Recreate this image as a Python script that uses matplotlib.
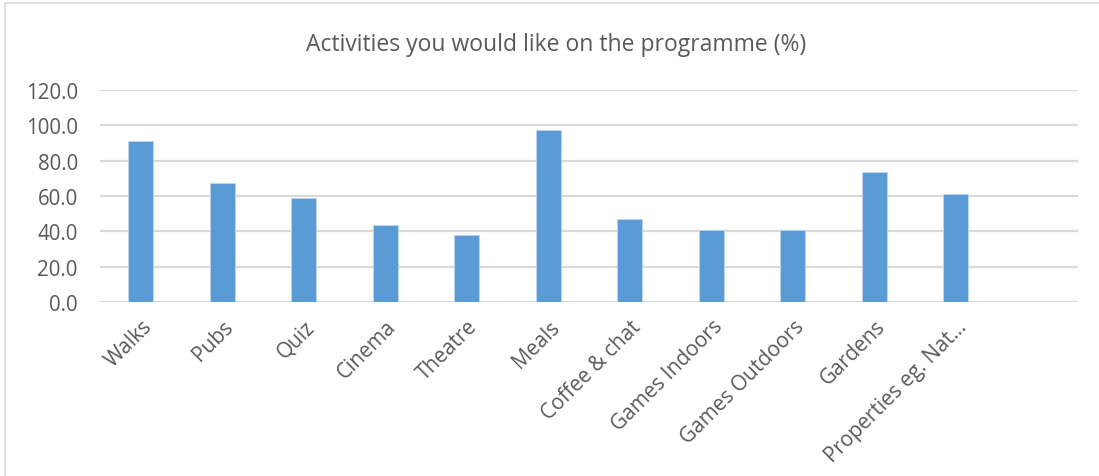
import matplotlib
matplotlib.use("Agg")
import matplotlib.pyplot as plt
from matplotlib.patches import Rectangle
from matplotlib.transforms import ScaledTranslation
import numpy as np

categories = ["Walks", "Pubs", "Quiz", "Cinema", "Theatre", "Meals", "Coffee & chat",
              "Games Indoors", "Games Outdoors", "Gardens", "Properties eg. Nat\u2026"]
values = [91.0, 67.3, 58.9, 43.8, 38.0, 97.1, 46.8, 41.0, 41.0, 73.4, 61.3]
yticks = [0, 20, 40, 60, 80, 100, 120]
n_slots = 12  # Excel left an empty category slot at the end

plt.rcParams["font.family"] = ["Open Sans", "DejaVu Sans"]
W, H = 1099, 477
fig = plt.figure(figsize=(W / 100, H / 100), dpi=100)
ax = fig.add_axes([100 / W, 1 - 303.3 / H, 978 / W, 212.6 / H])

x = np.arange(len(categories))
ax.bar(x, values, width=0.31, color="#5B9BD5", edgecolor="#BDD7EE", linewidth=0.6, zorder=3)
ax.set_xlim(-0.5, n_slots - 0.5)
ax.set_ylim(0, 120)
ax.set_yticks(yticks)
ax.set_yticklabels([f"{v:.1f}" for v in yticks])
ax.grid(axis="y", color="#D9D9D9", linewidth=1.6, zorder=0)
for s in ax.spines.values():
    s.set_visible(False)
ax.tick_params(axis="both", length=0, colors="#595959", labelsize=14.8)
ax.tick_params(axis="y", pad=16)
ax.set_xticks(x)
ax.set_xticklabels(categories, rotation=45, ha="right", va="center",
                   rotation_mode="anchor", fontsize=15)
ax.tick_params(axis="x", pad=15)
shift = ScaledTranslation(8 / 100, 0, fig.dpi_scale_trans)
for lab in ax.get_xticklabels():
    lab.set_transform(lab.get_transform() + shift)

fig.text(556 / W, 1 - 45 / H, "Activities you would like on the programme (%)",
         ha="center", va="center", fontsize=16.5, color="#595959")

# outer chart frame (only top and left edges fall inside the image)
fig.patches.append(Rectangle((5 / W, -0.1), 1.2, 1 - 4 / H + 0.1, transform=fig.transFigure,
                             fill=False, edgecolor="#D9D9D9", linewidth=1.2))

fig.savefig("out.png", dpi=100)
